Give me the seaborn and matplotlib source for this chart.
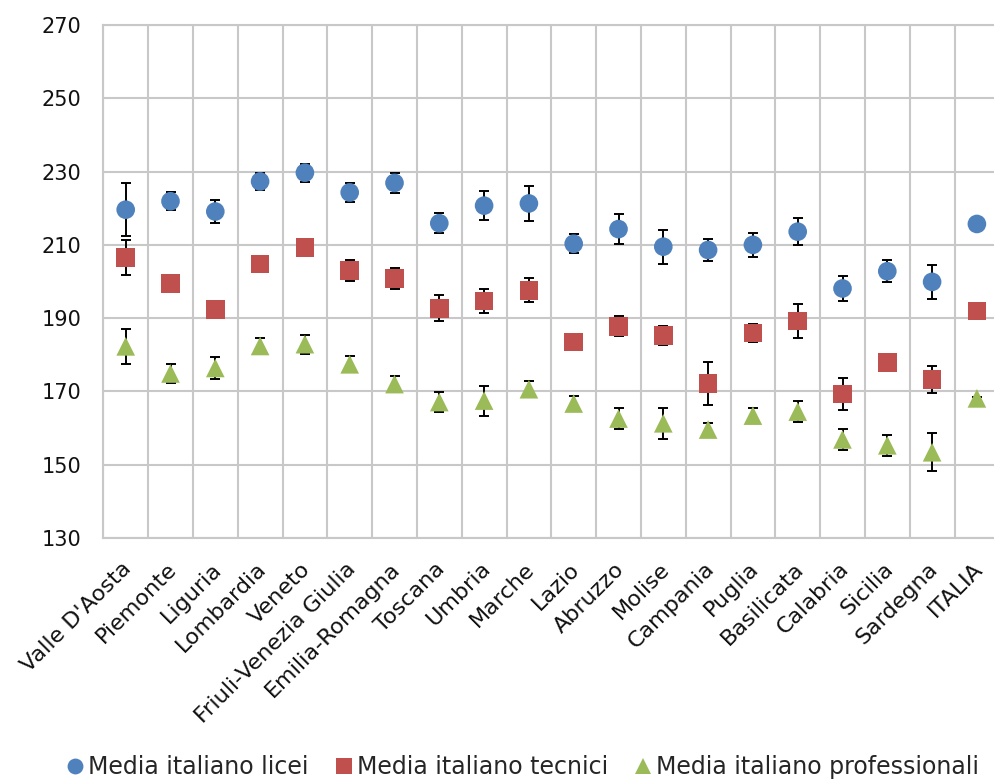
import numpy as np
import pandas as pd
import seaborn as sns
import matplotlib
matplotlib.use("Agg")
import matplotlib.pyplot as plt
from matplotlib.transforms import ScaledTranslation

regions = ["Valle D'Aosta", "Piemonte", "Liguria", "Lombardia", "Veneto",
           "Friuli-Venezia Giulia", "Emilia-Romagna", "Toscana", "Umbria", "Marche",
           "Lazio", "Abruzzo", "Molise", "Campania", "Puglia", "Basilicata",
           "Calabria", "Sicilia", "Sardegna", "ITALIA"]

licei = [219.6, 221.9, 219.1, 227.3, 229.7, 224.3, 226.9, 215.9, 220.7, 221.3,
         210.3, 214.3, 209.5, 208.6, 210.0, 213.6, 198.1, 202.8, 199.9, 215.7]
licei_err = [7.2, 2.4, 3.1, 2.3, 2.5, 2.6, 2.7, 2.8, 3.9, 4.8,
             2.6, 4.2, 4.6, 2.9, 3.2, 3.6, 3.3, 3.0, 4.7, 0.3]

tecnici = [206.6, 199.5, 192.3, 204.8, 209.2, 203.0, 200.9, 192.7, 194.7, 197.6,
           183.5, 187.8, 185.3, 172.2, 185.9, 189.2, 169.3, 177.9, 173.2, 191.9]
tecnici_err = [4.7, 1.5, 1.5, 1.5, 1.5, 2.8, 2.9, 3.5, 3.2, 3.3,
               1.5, 2.8, 2.5, 5.8, 2.5, 4.7, 4.4, 1.5, 3.7, 0.3]

professionali = [182.3, 174.9, 176.4, 182.4, 182.9, 177.4, 172.0, 167.1, 167.5, 170.6,
                 166.7, 162.6, 161.3, 159.6, 163.4, 164.5, 156.9, 155.3, 153.4, 168.1]
professionali_err = [4.7, 2.5, 3.0, 2.2, 2.6, 2.2, 2.2, 2.8, 4.1, 2.2,
                     2.0, 2.8, 4.3, 1.7, 2.0, 2.8, 2.8, 2.9, 5.2, 0.5]

series_names = ["Media italiano licei", "Media italiano tecnici", "Media italiano professionali"]
yticks = [130, 150, 170, 190, 210, 230, 250, 270]

sns.set_style("white")
plt.rcParams["font.family"] = ["DejaVu Sans"]

df = pd.concat([
    pd.DataFrame({"region": regions, "value": licei, "err": licei_err, "series": series_names[0]}),
    pd.DataFrame({"region": regions, "value": tecnici, "err": tecnici_err, "series": series_names[1]}),
    pd.DataFrame({"region": regions, "value": professionali, "err": professionali_err, "series": series_names[2]}),
], ignore_index=True)

palette = {series_names[0]: "#4F81BD", series_names[1]: "#C0504D", series_names[2]: "#9BBB59"}
markers = {series_names[0]: "o", series_names[1]: "s", series_names[2]: "^"}

fig = plt.figure(figsize=(9.95, 7.8), dpi=100)
ax = fig.add_axes([103.3 / 995, 242 / 780, 896 / 995, 513 / 780])

sns.scatterplot(data=df, x="region", y="value", hue="series", style="series",
                palette=palette, markers=markers, s=180, linewidth=0,
                edgecolor="none", ax=ax, zorder=4, legend=True)

xpos = {r: i for i, r in enumerate(regions)}
for name in series_names:
    sub = df[df["series"] == name]
    ax.errorbar([xpos[r] for r in sub["region"]], sub["value"], yerr=sub["err"],
                fmt="none", ecolor="black", elinewidth=1.4, capsize=3.4,
                capthick=1.4, zorder=3)

grid_c = "#c8c8c8"
ax.set_xlim(-0.5, len(regions) - 0.5)
ax.set_ylim(130, 270)
ax.set_yticks(yticks)
ax.set_xticks(range(len(regions)))
ax.set_xticks(np.arange(-0.5, len(regions), 1), minor=True)
ax.set_xticklabels(regions, rotation=45, ha="right", va="center",
                   rotation_mode="anchor", fontsize=16, color="#111111")
ax.tick_params(axis="x", which="major", length=0, pad=20)
ax.tick_params(axis="x", which="minor", length=6, color=grid_c, width=1.5)
ax.tick_params(axis="y", which="major", length=6, color=grid_c, width=1.5,
               labelsize=15, labelcolor="#111111", pad=10)
for lab in ax.get_xticklabels():
    lab.set_transform(lab.get_transform() + ScaledTranslation(2 / 72, 0, fig.dpi_scale_trans))

ax.grid(axis="y", which="major", color=grid_c, linewidth=1.5)
ax.grid(axis="x", which="minor", color=grid_c, linewidth=1.5)
ax.grid(axis="x", which="major", visible=False)
ax.set_axisbelow(True)
for sp in ["left", "bottom", "top"]:
    ax.spines[sp].set_color(grid_c)
    ax.spines[sp].set_linewidth(1.5)
ax.spines["right"].set_visible(False)
ax.set_xlabel("")
ax.set_ylabel("")

handles, labels = ax.get_legend_handles_labels()
ax.get_legend().remove()
fig.legend(handles, labels, loc="center", bbox_to_anchor=(521 / 995, 1 - 767 / 780),
           ncol=3, frameon=False, fontsize=17, handletextpad=0.05,
           columnspacing=1.0, markerscale=0.85, handlelength=1.0, borderpad=0)

fig.savefig("out.png", dpi=100)
